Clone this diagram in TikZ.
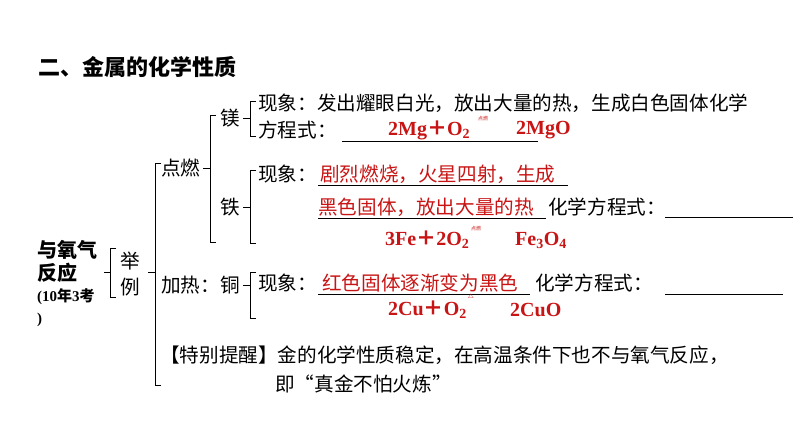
\documentclass[tikz,border=0pt]{standalone}
\usepackage{fontspec}
\setmainfont{Liberation Serif}
\newfontfamily\cjk{Noto Sans CJK SC}
\definecolor{eqred}{RGB}{200,20,20}
\begin{document}
\begin{tikzpicture}[x=1pt,y=-1pt,
  txt/.style={anchor=west,inner sep=0pt,font=\cjk\fontsize{19.6}{22}\selectfont},
  red/.style={txt,text=eqred},
  eq/.style={anchor=west,inner sep=0pt,text=eqred,font=\bfseries\fontsize{20}{22}\selectfont},
  condmark/.style={anchor=south,inner sep=0pt,text=eqred,font=\cjk\fontsize{5}{5}\selectfont},
  brk/.style={draw,line width=0.9pt},
  uline/.style={draw,line width=0.8pt}]
\useasboundingbox (0,0) rectangle (794,447);
\node[txt,font=\cjk\bfseries\fontsize{22}{24}\selectfont] (title) at (38,67) {二、金属的化学性质};
\node[txt,font=\cjk\bfseries\fontsize{20}{22}\selectfont] (l1) at (37,250) {与氧气};
\node[txt,font=\cjk\bfseries\fontsize{20}{22}\selectfont] (l2) at (37,273) {反应};
\node[txt,font=\bfseries\fontsize{15}{17}\selectfont] (l3) at (37,297) {(10{\cjk 年}3{\cjk 考}};
\node[txt,font=\bfseries\fontsize{15}{17}\selectfont] (l4) at (37,320) {)};
% bracket 举例
\path[brk] (104,272) -- (110,272) (116,248) -- (110,248) -- (110,297) -- (116,297);
\node[txt] (ju) at (120,261) {举};
\node[txt] (li) at (120,287) {例};
% big bracket
\path[brk] (148,272) -- (155,272) (161,163) -- (155,163) -- (155,385) -- (161,385);
\node[txt] (dr) at (161,168) {点燃};
\path[brk] (203,168) -- (210,168) (216,115) -- (210,115) -- (210,242) -- (216,242);
\node[txt] (mg) at (220,118) {镁};
\path[brk] (243,118) -- (250,118) (256,101) -- (250,101) -- (250,136) -- (256,136);
\node[txt] (mgx) at (258,103) {现象：发出耀眼白光，放出大量的热，生成白色固体化学};
\node[txt] (mgf) at (258,130) {方程式：};
\path[uline] (342,141) -- (538,141);
\node[eq] (mgeq) at (388,130) {2Mg{\cjk＋}O$_{\mathbf 2}$};
\node[condmark] at (483,121) {点燃};
\node[eq] (mgo) at (516,130) {2MgO};
\node[txt] (fe) at (220,207) {铁};
\path[brk] (243,207) -- (250,207) (256,170) -- (250,170) -- (250,243) -- (256,243);
\node[txt] (fex) at (258,174) {现象：};
\node[red] (fer1) at (320,174) {剧烈燃烧，火星四射，生成};
\path[uline] (318,185) -- (568,185);
\node[red] (fer2) at (318,207) {黑色固体，放出大量的热};
\path[uline] (318,218) -- (546,218);
\node[txt] (fef) at (548,207) {化学方程式：};
\path[uline] (665,217) -- (793,217);
\node[eq] (feeq) at (385,240) {3Fe{\cjk＋}2O$_{\mathbf 2}$};
\node[condmark] at (476,231) {点燃};
\node[eq] (feo) at (515,240) {Fe$_{\mathbf 3}$O$_{\mathbf 4}$};
\node[txt] (cu) at (161,285) {加热：铜};
\path[brk] (243,285) -- (250,285) (256,272) -- (250,272) -- (250,318) -- (256,318);
\node[txt] (cux) at (258,283) {现象：};
\node[red] (cur) at (322,283) {红色固体逐渐变为黑色};
\path[uline] (318,294) -- (530,294);
\node[txt] (cuf) at (535,283) {化学方程式：};
\path[uline] (665,294) -- (783,294);
\node[eq] (cueq) at (388,310) {2Cu{\cjk＋}O$_{\mathbf 2}$};
\node[anchor=south,inner sep=0pt,text=eqred,font=\fontsize{6}{6}\selectfont] at (471,300) {$\triangle$};
\node[eq] (cuo) at (510,310) {2CuO};
\node[txt] (tip) at (160,355) {【特别提醒】金的化学性质稳定，在高温条件下也不与氧气反应，};
\node[txt] (tip2) at (275,384) {即“真金不怕火炼”};
\end{tikzpicture}
\end{document}
